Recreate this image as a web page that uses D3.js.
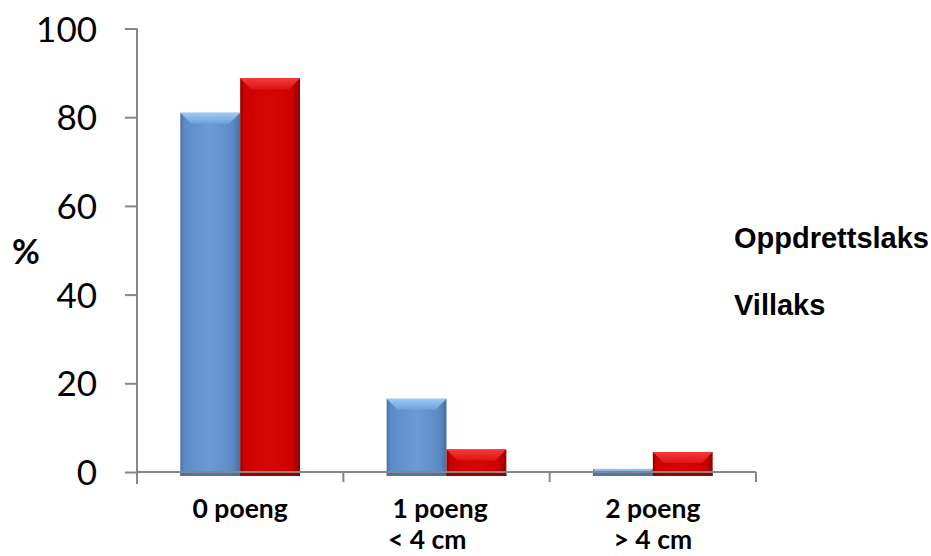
<!DOCTYPE html>
<html>
<head>
<meta charset="utf-8">
<script src="https://cdn.jsdelivr.net/npm/d3@7"></script>
<style>
  html, body { margin: 0; padding: 0; background: #ffffff; }
  svg { display: block; }
  text { white-space: pre; }
</style>
</head>
<body>
<div id="chart"></div>
<script>
// ---- data ----
const categories = [["0 poeng"], ["1 poeng  ", "< 4 cm      "], ["2 poeng", "> 4 cm"]];
const seriesNames = ["Oppdrettslaks", "Villaks"];
const oppdrettslaks = [81, 16.5, 0.7];
const villaks = [88.8, 5.1, 4.5];
const yTicks = [0, 20, 40, 60, 80, 100];
const yLabel = "%";

// ---- layout ----
const W = 931, H = 556;
const x0 = 137, x1 = 756, yBase = 472, yTop = 28.5;

const svg = d3.select("#chart").append("svg").attr("width", W).attr("height", H);

const x = d3.scaleBand().domain(d3.range(categories.length)).range([x0, x1])
  .paddingInner(0.42).paddingOuter(0.21);
const xs = d3.scaleBand().domain(d3.range(seriesNames.length)).range([0, x.bandwidth()]);
const y = d3.scaleLinear().domain([0, 100]).range([yBase, yTop]);

const palette = [
  { main: "#5a8ac6", light: "#6e9bd3", dark: "#46709f", bevel: "#9ccaf6", bevel2: "#6f9fd8" },
  { main: "#cc0000", light: "#d70606", dark: "#8f0000", bevel: "#f73a3a", bevel2: "#dd1414" }
];

const defs = svg.append("defs");
palette.forEach((p, i) => {
  const g = defs.append("linearGradient").attr("id", "body" + i)
    .attr("x1", 0).attr("x2", 1).attr("y1", 0).attr("y2", 0);
  g.append("stop").attr("offset", "0").attr("stop-color", p.dark);
  g.append("stop").attr("offset", "0.06").attr("stop-color", p.main);
  g.append("stop").attr("offset", "0.5").attr("stop-color", p.light);
  g.append("stop").attr("offset", "0.88").attr("stop-color", p.main);
  g.append("stop").attr("offset", "1").attr("stop-color", p.dark);
  const b = defs.append("linearGradient").attr("id", "bevel" + i)
    .attr("x1", 0).attr("x2", 0).attr("y1", 0).attr("y2", 1);
  b.append("stop").attr("offset", "0").attr("stop-color", p.bevel);
  b.append("stop").attr("offset", "1").attr("stop-color", p.bevel2);
});

const seriesData = [oppdrettslaks, villaks];
const bars = [];
seriesData.forEach((vals, s) => vals.forEach((v, c) => bars.push({ s, c, v })));

const below = 4;
const gBars = svg.append("g");
bars.forEach(d => {
  const bx = x(d.c) + xs(d.s), bw = xs.bandwidth();
  const top = y(d.v), bottom = y(0) + below;
  const h = bottom - top;
  gBars.append("rect").attr("x", bx).attr("y", top).attr("width", bw).attr("height", h)
    .attr("fill", `url(#body${d.s})`);
  const bev = Math.min(11, h / 2);
  gBars.append("polygon")
    .attr("points", [[bx, top], [bx + bw, top], [bx + bw - bev, top + bev], [bx + bev, top + bev]].map(p => p.join(",")).join(" "))
    .attr("fill", `url(#bevel${d.s})`);
  gBars.append("rect").attr("x", bx).attr("y", bottom - 3).attr("width", bw).attr("height", 3)
    .attr("fill", palette[d.s].dark).attr("opacity", 0.8);
});

// ---- axes ----
const axisColor = "#868686";
const yAxis = svg.append("g").attr("transform", `translate(${x0},0)`)
  .call(d3.axisLeft(y).tickValues(yTicks).tickSize(12).tickPadding(28).tickFormat(d3.format("d")));
yAxis.select(".domain").remove();
yAxis.selectAll(".tick line").attr("stroke", axisColor).attr("stroke-width", 2);
yAxis.selectAll(".tick text").attr("fill", "#000").style("font-family", "Lato, 'Open Sans', sans-serif")
  .style("font-size", "35px").attr("dy", "0.36em");
svg.append("line").attr("x1", x0).attr("x2", x0).attr("y1", yTop).attr("y2", yBase + 12)
  .attr("stroke", axisColor).attr("stroke-width", 2);

// x axis
svg.append("line").attr("x1", x0).attr("x2", x1).attr("y1", yBase).attr("y2", yBase)
  .attr("stroke", axisColor).attr("stroke-width", 2);
const boundaries = d3.range(categories.length).map(i => x(i) + x.bandwidth() + x.step() * x.paddingInner() / 2);
svg.selectAll(".xtick").data(boundaries).enter().append("line")
  .attr("x1", d => d).attr("x2", d => d).attr("y1", yBase).attr("y2", yBase + 10)
  .attr("stroke", axisColor).attr("stroke-width", 2);

const xl = svg.append("g");
categories.forEach((lines, i) => {
  const cx = x(i) + x.bandwidth() / 2;
  const t = xl.append("text").attr("x", cx).attr("y", 518).attr("text-anchor", "middle")
    .style("font-family", "Lato, 'Open Sans', sans-serif").style("font-weight", "bold")
    .style("font-size", "26.5px").attr("fill", "#000");
  lines.forEach((ln, j) => {
    t.append("tspan").attr("x", cx).attr("y", 518 + j * 31).text(ln);
  });
});

// y label
svg.append("text").attr("x", 26).attr("y", 264).attr("text-anchor", "middle")
  .style("font-family", "Lato, sans-serif").style("font-weight", "bold").style("font-size", "34px")
  .attr("fill", "#000").text(yLabel);

// legend (text only, as in the reference)
svg.selectAll(".leg").data(seriesNames).enter().append("text")
  .attr("x", 734).attr("y", (d, i) => 248 + i * 67)
  .style("font-family", "'Liberation Sans', Arial, sans-serif").style("font-weight", "bold")
  .style("font-size", "29px").attr("fill", "#000").text(d => d);
</script>
</body>
</html>
